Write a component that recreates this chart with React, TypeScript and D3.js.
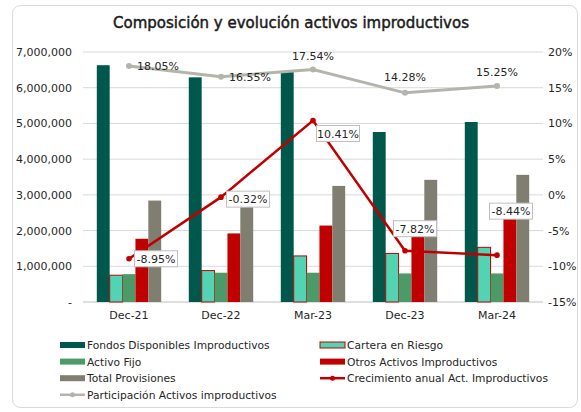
import React from "react";
import * as d3 from "d3";

const categories = ["Dec-21", "Dec-22", "Mar-23", "Dec-23", "Mar-24"];
const fondos = [6630000, 6290000, 6450000, 4760000, 5040000];
const cartera = [750000, 880000, 1290000, 1360000, 1530000];
const activoFijo = [780000, 820000, 820000, 800000, 800000];
const otros = [1770000, 1920000, 2140000, 1850000, 2400000];
const provisiones = [2840000, 2690000, 3250000, 3420000, 3560000];
const participacion = [18.05, 16.55, 17.54, 14.28, 15.25];
const crecimiento = [-8.95, -0.32, 10.41, -7.82, -8.44];
const leftTicks = [0, 1000000, 2000000, 3000000, 4000000, 5000000, 6000000, 7000000];
const rightTicks = [-15, -10, -5, 0, 5, 10, 15, 20];

const barSeries = [
  { name: "Fondos Disponibles Improductivos", values: fondos, fill: "#00574b", stroke: "none" },
  { name: "Cartera en Riesgo", values: cartera, fill: "#52d3b1", stroke: "#c00000" },
  { name: "Activo Fijo", values: activoFijo, fill: "#4b9b69", stroke: "none" },
  { name: "Otros Activos Improductivos", values: otros, fill: "#c00000", stroke: "none" },
  { name: "Total Provisiones", values: provisiones, fill: "#7f7e71", stroke: "none" },
];

const FONT = "'DejaVu Sans', Verdana, sans-serif";

export default function App() {
  const W = 581, H = 412;
  const x0 = 83, x1 = 543, yTop = 52, yBot = 302;
  const x = d3.scaleBand<string>().domain(categories).range([x0, x1]).paddingInner(0.3).paddingOuter(0.15);
  const xCenter = (c: string) => (x(c) as number) + x.bandwidth() / 2;
  const xs = d3.scaleBand<number>().domain(d3.range(barSeries.length)).range([0, x.bandwidth()]);
  const yL = d3.scaleLinear().domain([0, 7000000]).range([yBot, yTop]);
  const yR = d3.scaleLinear().domain([-15, 20]).range([yBot, yTop]);
  const fmtL = (v: number) => (v === 0 ? "-" : d3.format(",")(v));
  const fmtP = (v: number) => v.toFixed(2) + "%";

  const lineGen = (vals: number[]) =>
    d3.line<number>().x((_, i) => xCenter(categories[i])).y((v) => yR(v))(vals) as string;

  const partLabelPos = [
    { dx: 29, dy: 4 }, { dx: 29, dy: 4 }, { dx: 0, dy: -10 }, { dx: 0, dy: -12 }, { dx: 0, dy: -10 },
  ];
  const growLabelPos = [
    { dx: 27, dy: 0 }, { dx: 27, dy: 2 }, { dx: 25, dy: 13 }, { dx: 10, dy: -22 }, { dx: 14, dy: -44 },
  ];

  const legendItems = [
    { name: barSeries[0].name, type: "bar", fill: barSeries[0].fill, stroke: "none", col: 0, row: 0 },
    { name: barSeries[1].name, type: "bar", fill: barSeries[1].fill, stroke: "#c00000", col: 1, row: 0 },
    { name: barSeries[2].name, type: "bar", fill: barSeries[2].fill, stroke: "none", col: 0, row: 1 },
    { name: barSeries[3].name, type: "bar", fill: barSeries[3].fill, stroke: "none", col: 1, row: 1 },
    { name: barSeries[4].name, type: "bar", fill: barSeries[4].fill, stroke: "none", col: 0, row: 2 },
    { name: "Crecimiento anual Act. Improductivos", type: "line", fill: "#c00000", stroke: "#c00000", col: 1, row: 2 },
    { name: "Participación Activos improductivos", type: "line", fill: "#b3b5aa", stroke: "#b3b5aa", col: 0, row: 3 },
  ];

  return (
    <svg width={W} height={H} style={{ position: "absolute", left: 0, top: 0 }} fontFamily={FONT}>
      <rect x={0} y={0} width={W} height={H} fill="#ffffff" />
      <rect x={12.5} y={5.5} width={565} height={402} rx={8} fill="#ffffff" stroke="#d9d9d9" />
      <text x={291} y={28} textAnchor="middle" fontSize={15} fill="#1a1a1a" stroke="#1a1a1a" strokeWidth={0.45}>
        Composición y evolución activos improductivos
      </text>
      {leftTicks.map((t) => (
        <g key={t}>
          <line x1={x0} x2={x1} y1={yL(t)} y2={yL(t)} stroke={t === 0 ? "#bfbfbf" : "#d9d9d9"} strokeWidth={1} />
          <text x={72} y={yL(t) + 4} textAnchor="end" fontSize={11} fill="#262626">{fmtL(t)}</text>
        </g>
      ))}
      {rightTicks.map((t) => (
        <text key={t} x={548} y={yR(t) + 4} textAnchor="start" fontSize={11} fill="#262626">{t}%</text>
      ))}
      {categories.map((c) => (
        <text key={c} x={xCenter(c)} y={319} textAnchor="middle" fontSize={11} fill="#262626">{c}</text>
      ))}
      {barSeries.map((s, si) =>
        s.values.map((v, i) => (
          <rect
            key={s.name + i}
            x={(x(categories[i]) as number) + (xs(si) as number)}
            y={yL(v)}
            width={xs.bandwidth()}
            height={yBot - yL(v)}
            fill={s.fill}
            stroke={s.stroke}
            strokeWidth={s.stroke === "none" ? 0 : 1}
          />
        ))
      )}
      <path d={lineGen(participacion)} fill="none" stroke="#b3b5aa" strokeWidth={3} />
      {participacion.map((v, i) => (
        <circle key={"pc" + i} cx={xCenter(categories[i])} cy={yR(v)} r={3} fill="#b3b5aa" />
      ))}
      {participacion.map((v, i) => (
        <text key={"pt" + i} x={xCenter(categories[i]) + partLabelPos[i].dx} y={yR(v) + partLabelPos[i].dy}
          textAnchor="middle" fontSize={11} fill="#262626">{fmtP(v)}</text>
      ))}
      <path d={lineGen(crecimiento)} fill="none" stroke="#c00000" strokeWidth={2.5} />
      {crecimiento.map((v, i) => (
        <circle key={"gc" + i} cx={xCenter(categories[i])} cy={yR(v)} r={2.8} fill="#c00000" />
      ))}
      {crecimiento.map((v, i) => {
        const cx = xCenter(categories[i]) + growLabelPos[i].dx;
        const cy = yR(v) + growLabelPos[i].dy;
        const w = 43, h = 16;
        return (
          <g key={"gl" + i}>
            <rect x={cx - w / 2} y={cy - h / 2} width={w} height={h} fill="#ffffff" stroke="#bfbfbf" strokeWidth={1} />
            <text x={cx} y={cy + 4} textAnchor="middle" fontSize={11} fill="#262626">{fmtP(v)}</text>
          </g>
        );
      })}
      {legendItems.map((it) => {
        const lx = it.col === 0 ? 60 : 320;
        const ly = 345 + it.row * 16.6;
        return (
          <g key={it.name}>
            {it.type === "bar" ? (
              <rect x={lx} y={ly - 3} width={25} height={6} fill={it.fill}
                stroke={it.stroke} strokeWidth={it.stroke === "none" ? 0 : 1} />
            ) : (
              <g>
                <line x1={lx} x2={lx + 25} y1={ly} y2={ly} stroke={it.stroke} strokeWidth={2.5} />
                <circle cx={lx + 12.5} cy={ly} r={2.5} fill={it.fill} />
              </g>
            )}
            <text x={lx + 27} y={ly + 4} fontSize={10.7} fill="#262626">{it.name}</text>
          </g>
        );
      })}
    </svg>
  );
}
